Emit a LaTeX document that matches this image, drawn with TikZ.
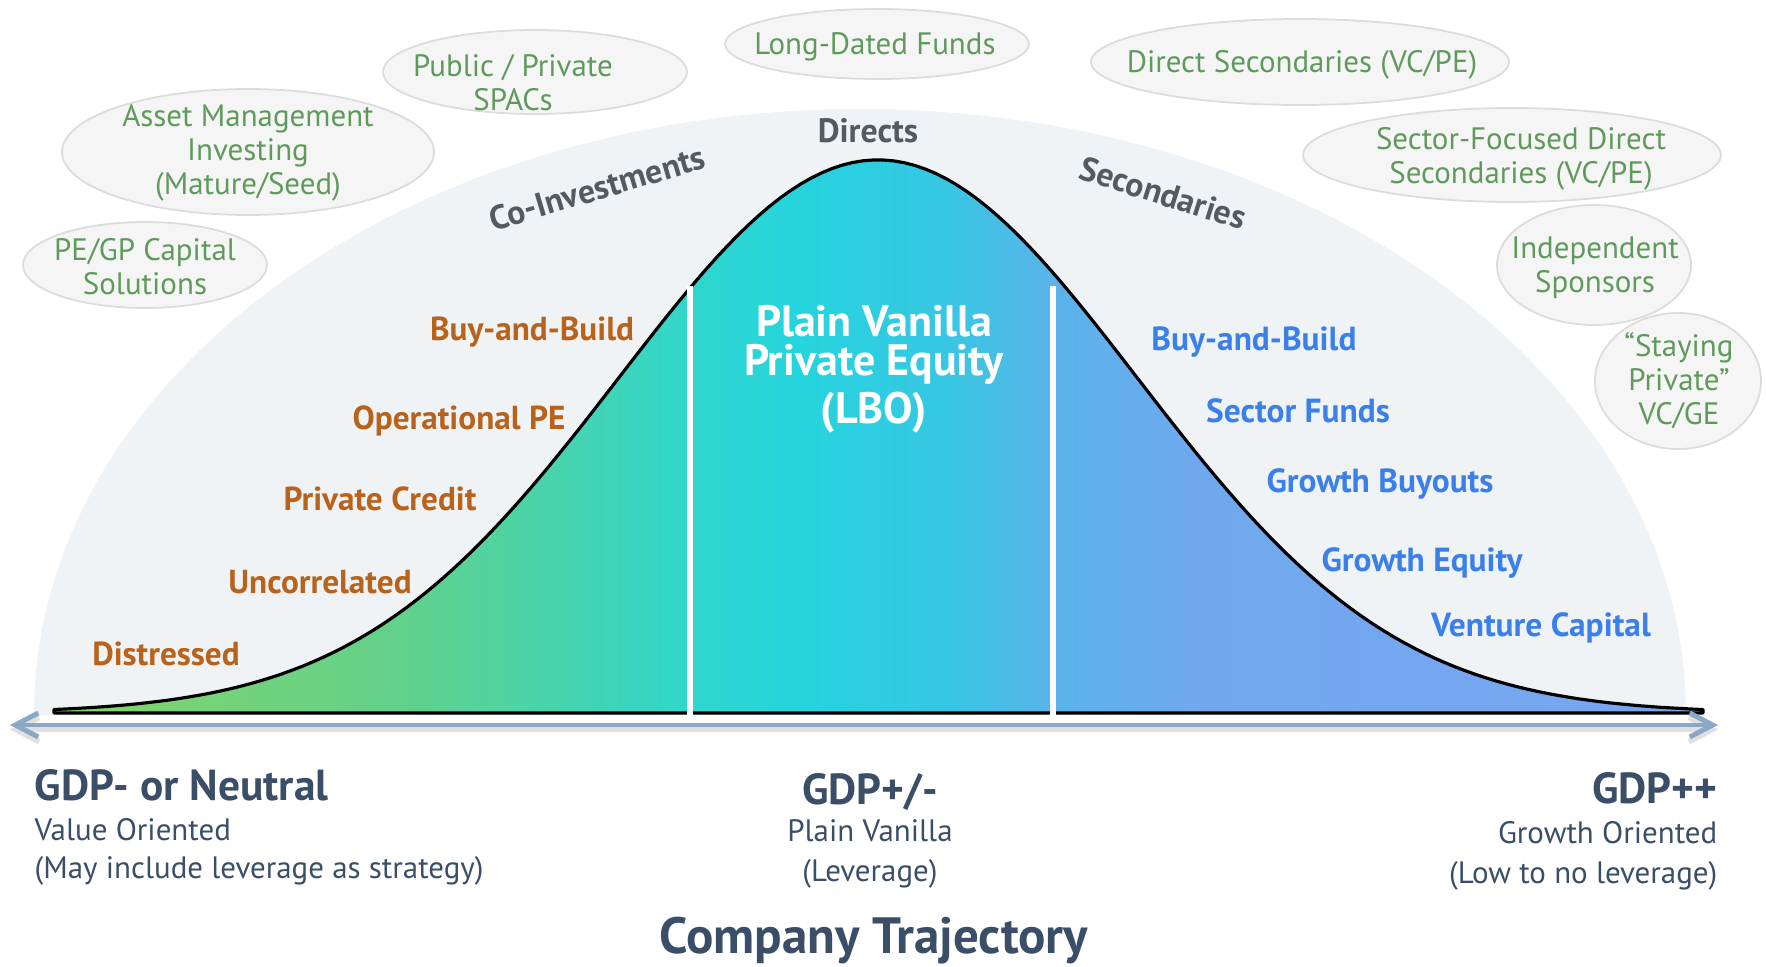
\documentclass[tikz,border=0pt]{standalone}
\usepackage{fontspec}
\setmainfont{PT Sans}
\usetikzlibrary{arrows.meta}

\definecolor{bggray}{HTML}{F0F3F6}
\definecolor{bubblefill}{HTML}{F5F5F5}
\definecolor{bubbleline}{HTML}{DCDCDC}
\definecolor{bubblegreen}{HTML}{5F9A5C}
\definecolor{valueorange}{HTML}{B8621C}
\definecolor{growthblue}{HTML}{3B7FE8}
\definecolor{stagegray}{HTML}{555A5F}
\definecolor{axisblue}{HTML}{8AA8C8}
\definecolor{footslate}{HTML}{3A4E68}
\definecolor{bellA}{HTML}{86D46A}
\definecolor{bellB}{HTML}{62D18A}
\definecolor{bellC}{HTML}{30D6CC}
\definecolor{bellD}{HTML}{25D4DE}
\definecolor{bellE}{HTML}{38C6E3}
\definecolor{bellF}{HTML}{5AB3EA}
\definecolor{bellG}{HTML}{70A8EE}
\definecolor{bellH}{HTML}{78A6F0}

\pgfdeclarehorizontalshading{bellshade}{100bp}{color(0bp)=(bellA); color(25bp)=(bellA);
  color(35.5bp)=(bellB); color(44.3bp)=(bellC); color(47.6bp)=(bellD); color(52.2bp)=(bellE);
  color(55.3bp)=(bellF); color(59.75bp)=(bellG); color(75bp)=(bellH); color(100bp)=(bellH)}

\tikzset{
  bubble/.style={fill=bubblefill, draw=bubbleline, line width=0.5pt},
  bubbletext/.style={text=bubblegreen, align=center, inner sep=0pt, font=\fontsize{8.8}{9.7}\selectfont},
  valuelabel/.style={text=valueorange, inner sep=0pt, font=\bfseries\fontsize{9.45}{10}\selectfont},
  growthlabel/.style={text=growthblue, inner sep=0pt, font=\bfseries\fontsize{9.5}{10}\selectfont},
  stagelabel/.style={text=stagegray, inner sep=0pt, font=\bfseries\fontsize{9.6}{10}\selectfont},
  axisarrow/.style={axisblue, line width=1.4pt, {Straight Barb[length=2.3mm,width=2.4mm]}-{Straight Barb[length=2.3mm,width=2.4mm]},
    preaction={draw=black!12, line width=1.6pt, transform canvas={yshift=-1.3pt}}},
  heading/.style={text=footslate, inner sep=0pt, font=\bfseries\fontsize{12.35}{14}\selectfont},
  subline/.style={text=footslate, inner sep=0pt, font=\fontsize{8.8}{10}\selectfont}
}

\begin{document}
\begin{tikzpicture}[x=0.01cm, y=-0.01cm]
  \useasboundingbox (0,0) rectangle (1766,966);
  %Background
  \begin{scope}
    \clip (0,0) rectangle (1766,714);
    \fill[bggray] (860,714) ellipse [x radius=826, y radius=605];
  \end{scope}

  %Bubbles
  \filldraw[bubble] (248,152) ellipse [x radius=186, y radius=63];
  \node[bubbletext] (asset) at (248,153) {Asset Management\\Investing\\(Mature/Seed)};
  \filldraw[bubble] (535,72) ellipse [x radius=152, y radius=42];
  \node[bubbletext] (spacs) at (513,83) {Public / Private\\SPACs};
  \filldraw[bubble] (877,44) ellipse [x radius=152, y radius=35];
  \node[bubbletext] (longdated) at (875,47) {Long-Dated Funds};
  \filldraw[bubble] (1300,62) ellipse [x radius=209, y radius=43];
  \node[bubbletext] (directsec) at (1302,65) {Direct Secondaries (VC/PE)};
  \filldraw[bubble] (1512,155) ellipse [x radius=209, y radius=47];
  \node[bubbletext] (sectorsec) at (1521,159) {Sector-Focused Direct\\Secondaries (VC/PE)};
  \filldraw[bubble] (145,265) ellipse [x radius=122, y radius=43];
  \node[bubbletext] (gpcapital) at (145,267) {PE/GP Capital\\Solutions};
  \filldraw[bubble] (1594,265) ellipse [x radius=97, y radius=60];
  \node[bubbletext] (sponsors) at (1595,268) {Independent\\Sponsors};
  \filldraw[bubble] (1678,381) ellipse [x radius=83, y radius=68];
  \node[bubbletext] (staying) at (1679,381) {“Staying\\Private”\\VC/GE};

  %Curve
  \shadedraw[shading=bellshade, line width=0.9pt, line join=round]
    (54,713) -- plot[domain=54:1703, samples=160] (\x,{713-553*exp(-0.5*((\x-878)/259)^2)}) -- (1703,713) -- cycle;
  \fill[white] (687,716) rectangle (693,286);
  \fill[white] (1050,716) rectangle (1056,286);

  %Strategies
  \node[valuelabel] (buildleft) at (532,332) {Buy-and-Build};
  \node[valuelabel] (operational) at (459,421) {Operational PE};
  \node[valuelabel] (credit) at (380,499) {Private Credit};
  \node[valuelabel] (uncorrelated) at (320,582) {Uncorrelated};
  \node[valuelabel] (distressed) at (166,654) {Distressed};
  \node[growthlabel] (buildright) at (1254,342) {Buy-and-Build};
  \node[growthlabel] (sectorfunds) at (1298,411) {Sector Funds};
  \node[growthlabel] (buyouts) at (1380,484) {Growth Buyouts};
  \node[growthlabel] (growtheq) at (1422,563) {Growth Equity};
  \node[growthlabel] (venture) at (1541,628) {Venture Capital};
  \node[stagelabel, rotate=16.5] (coinv) at (597,188) {Co-Investments};
  \node[stagelabel] (directs) at (868,131) {Directs};
  \node[stagelabel, rotate=-17.5] (secondaries) at (1163,193) {Secondaries};
  \node[text=white, align=center, font=\bfseries\fontsize{12.5}{11.2}\selectfont] (lbo) at (874,369)
    {Plain Vanilla\\Private Equity\\[1pt](LBO)};

  %Axis
  \coordinate (axleft) at (10,725);
  \coordinate (axright) at (1718,725);
  \draw[axisarrow] (axleft) -- (axright);

  %Trajectory
  \node[heading, anchor=west] (gdpminus) at (34,785) {GDP- or Neutral};
  \node[subline, anchor=west] (valueor) at (34,830) {Value Oriented};
  \node[subline, anchor=west] (mayinc) at (34,871) {(May include leverage as strategy)};
  \node[heading] (gdpmid) at (870,792) {GDP+/-};
  \node[subline] (plainvan) at (870,831) {Plain Vanilla};
  \node[subline] (leverage) at (870,874) {(Leverage)};
  \node[heading, anchor=east] (gdpplus) at (1718,788) {GDP++};
  \node[subline, anchor=east] (growthor) at (1718,833) {Growth Oriented};
  \node[subline, anchor=east] (lowlev) at (1718,876) {(Low to no leverage)};
  \node[heading, font=\bfseries\fontsize{14.5}{16}\selectfont] (trajectory) at (874,941) {Company Trajectory};
\end{tikzpicture}
\end{document}
